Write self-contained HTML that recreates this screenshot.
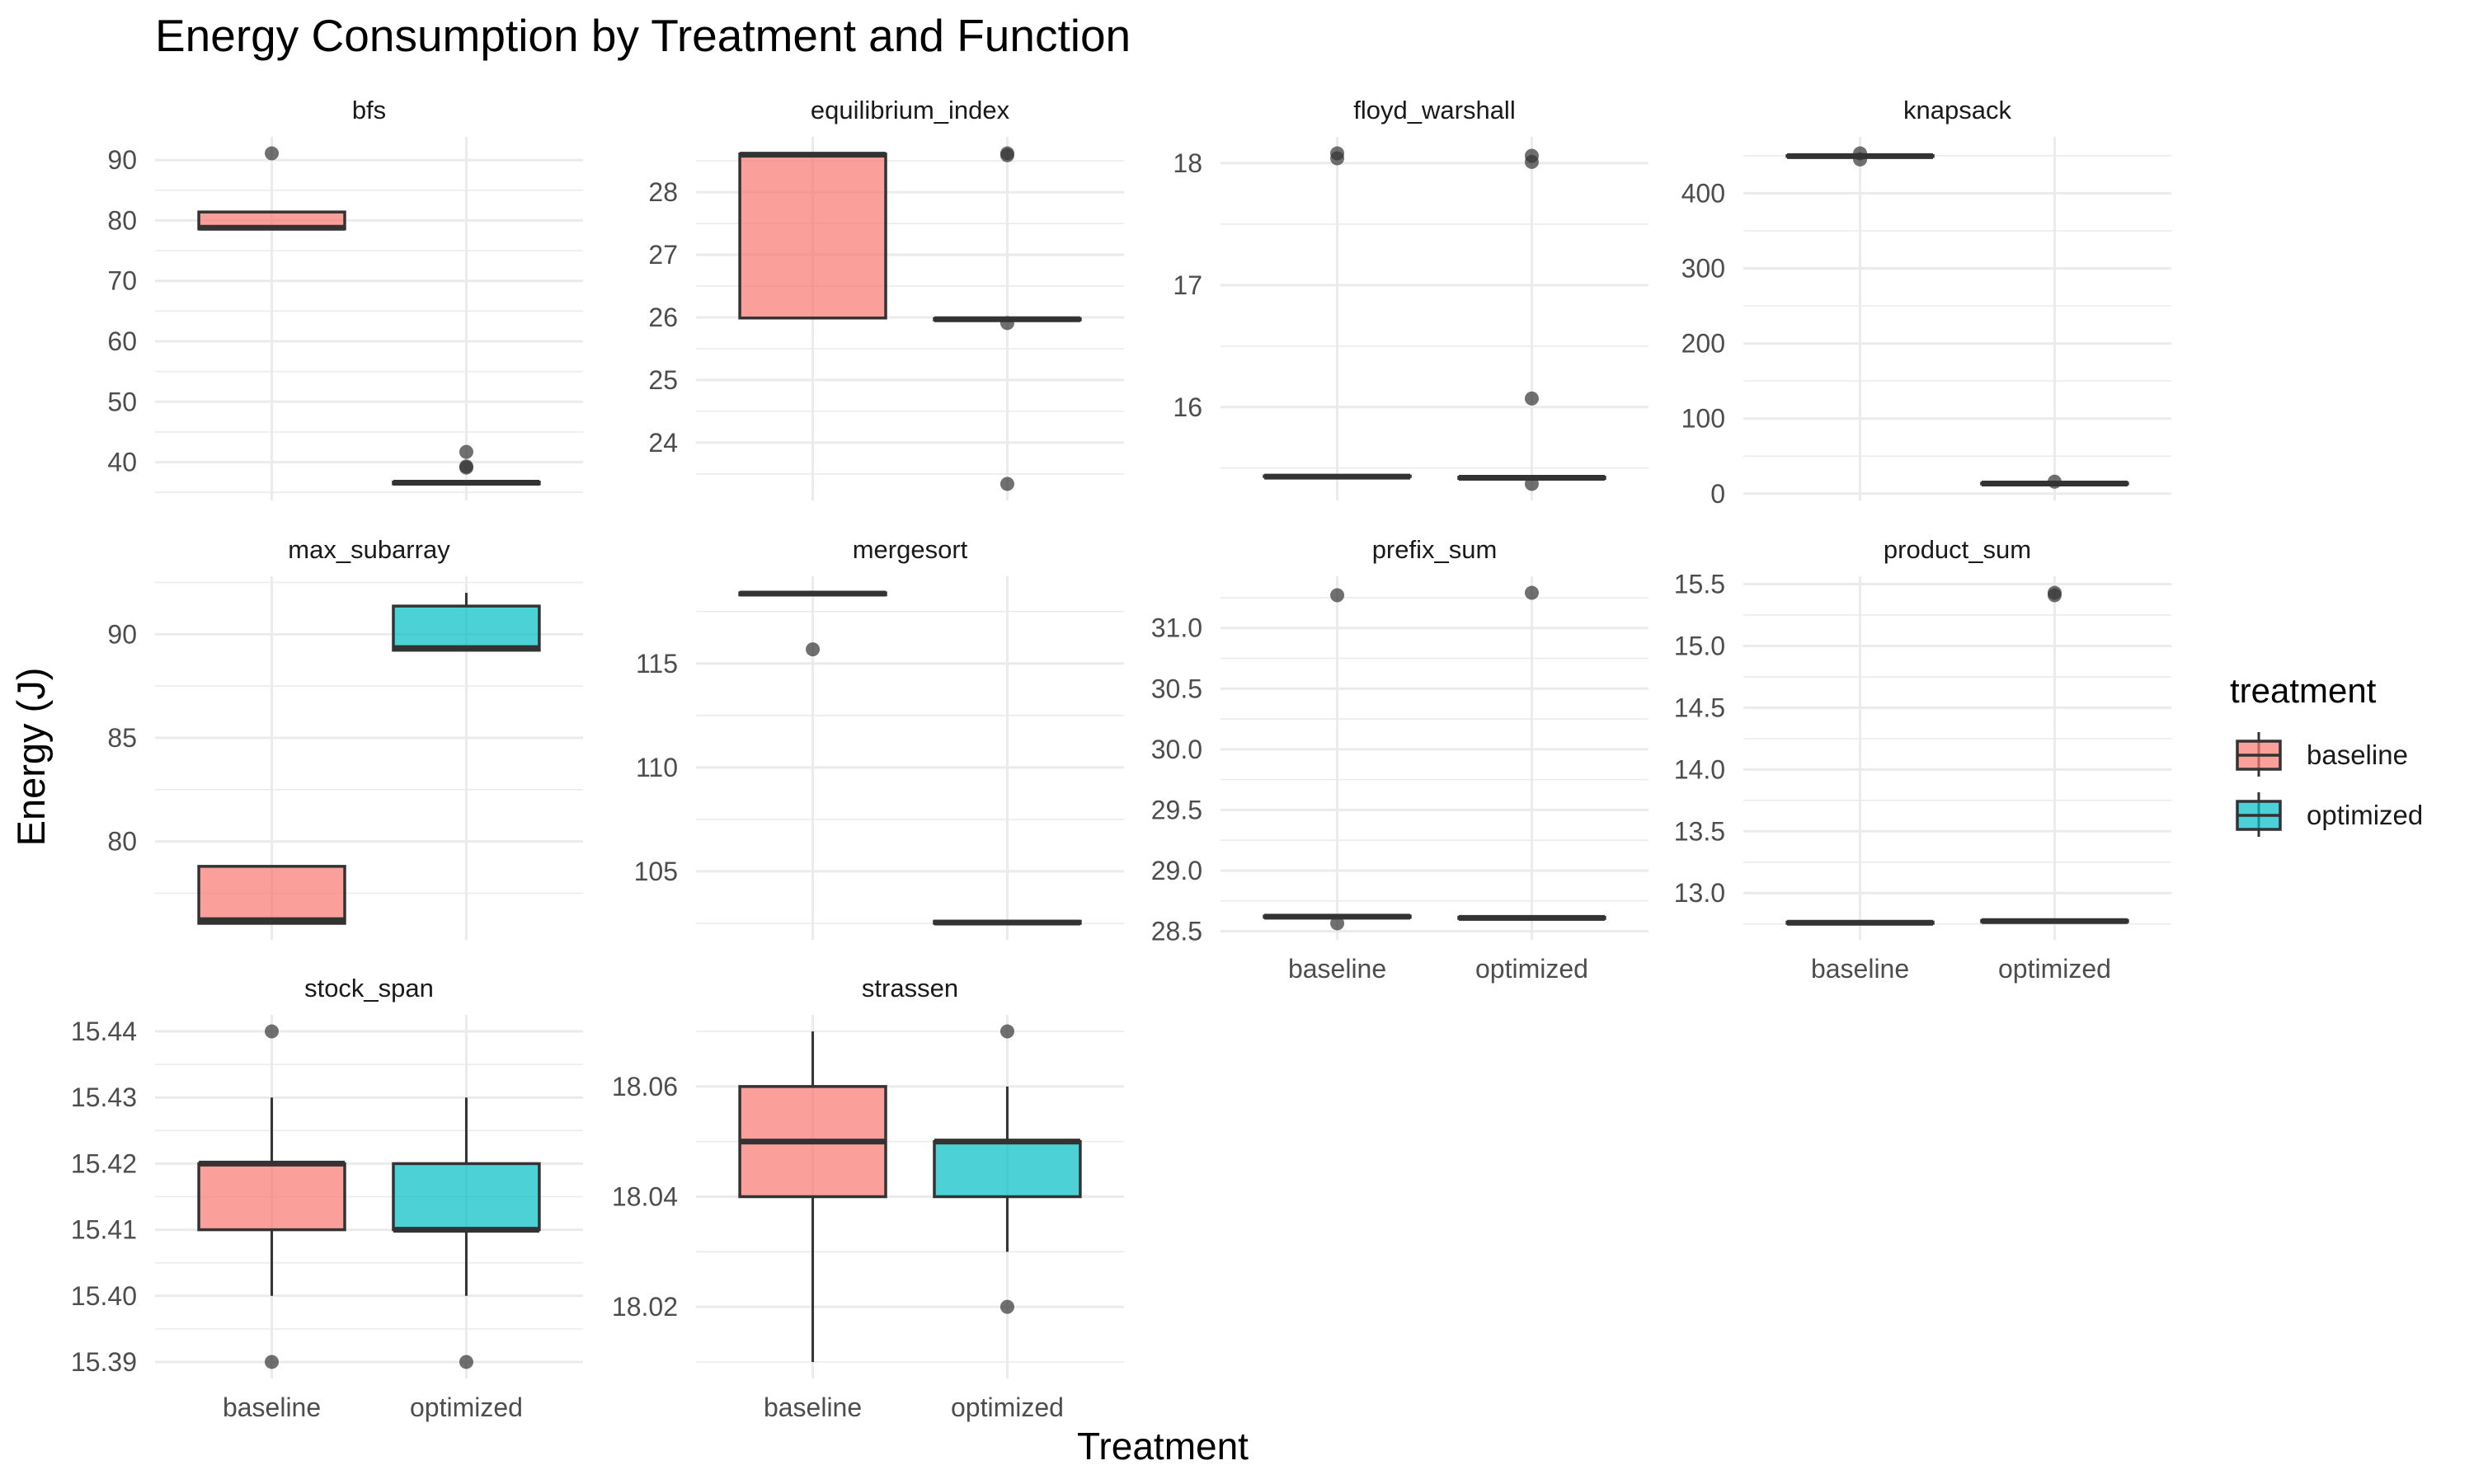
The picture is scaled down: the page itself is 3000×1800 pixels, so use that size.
<!DOCTYPE html>
<html><head><meta charset="utf-8"><style>
html,body{margin:0;padding:0;background:#fff;}
svg{display:block;font-family:"Liberation Sans",Arial,sans-serif;}
</style></head><body>
<svg id="chart" width="3000" height="1800" viewBox="0 0 3000 1800" xmlns="http://www.w3.org/2000/svg">
<rect width="3000" height="1800" fill="#fff"/>
<text x="188" y="62" font-size="55" fill="#000">Energy Consumption by Treatment and Function</text>
<text transform="translate(54,918) rotate(-90)" text-anchor="middle" font-size="47" fill="#000">Energy (J)</text>
<text x="1410" y="1770" text-anchor="middle" font-size="46" fill="#000">Treatment</text>
<g>
<text x="2704" y="852" font-size="42" fill="#000">treatment</text>
<g>
<line x1="2739" y1="888" x2="2739" y2="942" stroke="#333" stroke-width="3"/>
<rect x="2713" y="899" width="52" height="34" fill="#F8766D" fill-opacity="0.7" stroke="#333" stroke-width="3.5"/>
<line x1="2713" y1="916" x2="2765" y2="916" stroke="#333" stroke-width="3.5"/>
<text x="2797" y="927" font-size="33" fill="#1a1a1a">baseline</text>
</g>
<g>
<line x1="2739" y1="961" x2="2739" y2="1015" stroke="#333" stroke-width="3"/>
<rect x="2713" y="972" width="52" height="34" fill="#00BFC4" fill-opacity="0.7" stroke="#333" stroke-width="3.5"/>
<line x1="2713" y1="989" x2="2765" y2="989" stroke="#333" stroke-width="3.5"/>
<text x="2797" y="1000" font-size="33" fill="#1a1a1a">optimized</text>
</g>
</g>
<g id="panels"></g>
</svg>
<script>
const funcs = ["bfs","equilibrium_index","floyd_warshall","knapsack","max_subarray","mergesort","prefix_sum","product_sum","stock_span","strassen"];
const treatments = ["baseline","optimized"];
// [lowerWhisker, q1, median, q3, upperWhisker]
const baseStats = [
  [78.6,78.6,78.8,81.4,81.4],
  [25.99,25.99,28.6,28.61,28.61],
  [15.43,15.43,15.43,15.435,15.435],
  [449,449,449.4,450,450],
  [76.05,76.05,76.2,78.8,78.8],
  [118.3,118.3,118.36,118.4,118.4],
  [28.615,28.615,28.62,28.625,28.625],
  [12.755,12.755,12.76,12.765,12.765],
  [15.40,15.41,15.42,15.42,15.43],
  [18.01,18.04,18.05,18.06,18.07]
];
const optStats = [
  [36.4,36.4,36.6,36.7,36.7],
  [25.96,25.96,25.97,25.98,25.98],
  [15.415,15.415,15.42,15.425,15.425],
  [13,13,13.5,14,14],
  [89.23,89.23,89.33,91.36,92.0],
  [102.5,102.5,102.54,102.6,102.6],
  [28.605,28.605,28.61,28.615,28.615],
  [12.768,12.768,12.773,12.778,12.778],
  [15.40,15.41,15.41,15.42,15.43],
  [18.03,18.04,18.05,18.05,18.06]
];
const baseOutliers = [[91.1],[],[18.08,18.04],[453,445],[],[115.68],[31.27,28.565],[],[15.44,15.39],[]];
const optOutliers = [[41.7,39.3,39.1],[28.62,28.59,25.91,23.34],[18.06,18.01,16.07,15.37],[16],[],[],[31.29],[15.43,15.41],[15.39],[18.07,18.02]];
const majorTicks = [
  [40,50,60,70,80,90],
  [24,25,26,27,28],
  [16,17,18],
  [0,100,200,300,400],
  [80,85,90],
  [105,110,115],
  [28.5,29.0,29.5,30.0,30.5,31.0],
  [13.0,13.5,14.0,14.5,15.0,15.5],
  [15.39,15.40,15.41,15.42,15.43,15.44],
  [18.02,18.04,18.06]
];
const tickDecimals = [0,0,0,0,0,0,1,1,2,2];

const NS = "http://www.w3.org/2000/svg";
const colLeft = [188, 844, 1480, 2114];
const rowTop = [166, 699, 1231];
const PW = 519, PH = 441;
const fills = ["#F8766D","#00BFC4"];
const root = document.getElementById("panels");
function mk(tag, attrs, parent){
  const e = document.createElementNS(NS, tag);
  for (const k in attrs) e.setAttribute(k, attrs[k]);
  parent.appendChild(e);
  return e;
}
funcs.forEach((fn, i) => {
  const col = i % 4, row = Math.floor(i / 4);
  const x0 = colLeft[col], y0 = rowTop[row];
  const g = mk("g", {}, root);
  
  
  const all = [...baseStats[i], ...optStats[i], ...baseOutliers[i], ...optOutliers[i]];
  let mn = Math.min(...all), mx = Math.max(...all);
  const pad = (mx - mn) * 0.05;
  mn -= pad; mx += pad;
  const y = v => y0 + PH - (v - mn) / (mx - mn) * PH;
  const x = c => x0 + (c + 0.6) / 2.2 * PW;
  const bw = 0.75 / 2.2 * PW;
  const mt = majorTicks[i];
  const step = mt[1] - mt[0];
  const minors = [];
  for (let k = -1; k < mt.length; k++) minors.push(mt[0] + (k + 0.5) * step);
  minors.forEach(v => {
    if (v > mn && v < mx) {
      const l = mk("line", {x1:x0, x2:x0+PW, y1:y(v), y2:y(v), stroke:"#ebebeb", "stroke-width":1.6}, g);
      
      
    }
  });
  mt.forEach(v => {
    const l = mk("line", {x1:x0, x2:x0+PW, y1:y(v), y2:y(v), stroke:"#ebebeb", "stroke-width":3}, g);
    
    
    const t = mk("text", {x:x0-22, y:y(v)+11, "text-anchor":"end", "font-size":32, fill:"#4d4d4d"}, g);
    
    
    t.textContent = v.toFixed(tickDecimals[i]);
  });
  [0,1].forEach(c => {
    const l = mk("line", {x1:x(c), x2:x(c), y1:y0, y2:y0+PH, stroke:"#ebebeb", "stroke-width":3}, g);
    
    
  });
  const st = mk("text", {x:x0+PW/2, y:y0-22, "text-anchor":"middle", "font-size":31, fill:"#1a1a1a"}, g);
  
  
  st.textContent = fn;
  const bottomRow = (col < 2) ? 2 : 1;
  if (row === bottomRow) {
    treatments.forEach((tr, c) => {
      const t = mk("text", {x:x(c), y:y0+PH+46, "text-anchor":"middle", "font-size":32, fill:"#4d4d4d"}, g);
      
      
      t.textContent = tr;
    });
  }
  [baseStats[i], optStats[i]].forEach((s, c) => {
    const bg = mk("g", {}, g);
    
    
    const cx = x(c);
    mk("line", {x1:cx, x2:cx, y1:y(s[3]), y2:y(s[4]), stroke:"#333", "stroke-width":3}, bg);
    mk("line", {x1:cx, x2:cx, y1:y(s[1]), y2:y(s[0]), stroke:"#333", "stroke-width":3}, bg);
    const top = y(s[3]), bot = y(s[1]);
    mk("rect", {x:cx-bw/2, y:top, width:bw, height:Math.max(bot-top,0.1), fill:fills[c], "fill-opacity":0.7, stroke:"#333", "stroke-width":3.5}, bg);
    mk("line", {x1:cx-bw/2, x2:cx+bw/2, y1:y(s[2]), y2:y(s[2]), stroke:"#333", "stroke-width":7}, bg);
  });
  [baseOutliers[i], optOutliers[i]].forEach((arr, c) => {
    arr.forEach(v => {
      const p = mk("circle", {cx:x(c), cy:y(v), r:8.5, fill:"#333", "fill-opacity":0.7}, g);
      
      
    });
  });
});
</script>
</body></html>
